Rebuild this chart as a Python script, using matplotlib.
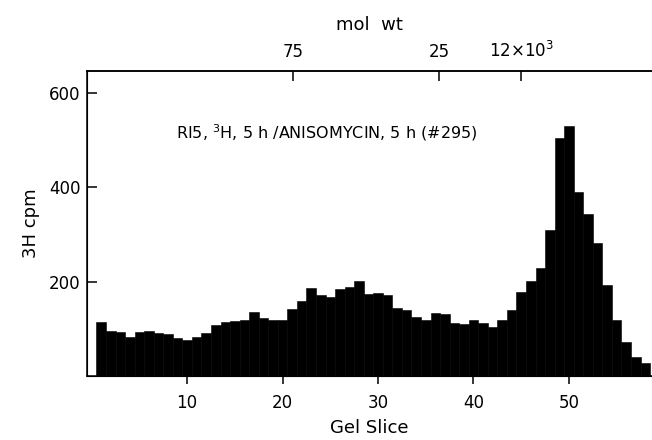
import matplotlib
matplotlib.use("Agg")
import matplotlib.pyplot as plt

# gel slice number and 3H counts per slice
slices = list(range(1, 59))
cpm = [114, 95, 93, 82, 93, 95, 92, 90, 81, 76,
       82, 91, 108, 115, 116, 119, 136, 122, 119, 118,
       141, 160, 187, 171, 168, 184, 188, 202, 174, 175,
       172, 145, 140, 124, 119, 133, 131, 112, 110, 118,
       113, 103, 119, 139, 178, 201, 230, 310, 504, 531,
       390, 344, 281, 192, 119, 71, 41, 27]

x_ticks = [10, 20, 30, 40, 50]
y_ticks = [200, 400, 600]

# molecular weight markers on the top axis
mw_pos = [21.1, 36.4, 45.0]
mw_labels = ["75", "25", r"12$\times$10$^3$"]

fig = plt.figure(figsize=(6.52, 4.40), dpi=100)
ax = fig.add_axes([0.134, 0.1455, 0.866, 0.6935])

ax.bar(slices, cpm, width=1.0, color="black", edgecolor="black", linewidth=0.4)

ax.set_xlim(-0.45, 58.7)
ax.set_ylim(0, 647)

for s in ["left", "bottom", "top"]:
    ax.spines[s].set_linewidth(1.1)
ax.spines["right"].set_visible(False)

ax.set_xticks(x_ticks)
ax.set_yticks(y_ticks)
ax.tick_params(axis="x", direction="out", length=6, width=1.1, labelsize=12, pad=7)
ax.tick_params(axis="y", direction="in", length=7, width=1.1, labelsize=12, pad=5)

ax.set_xlabel("Gel Slice", fontsize=13, labelpad=5)
ax.set_ylabel("3H cpm", fontsize=13, labelpad=6)

top = ax.twiny()
top.set_xlim(ax.get_xlim())
top.set_xticks(mw_pos)
top.set_xticklabels(mw_labels)
top.tick_params(axis="x", direction="in", length=7, width=1.1, labelsize=12, pad=7)
top.spines["right"].set_visible(False)
top.spines["top"].set_linewidth(1.1)
top.set_xlabel("mol  wt", fontsize=13, labelpad=8)

ax.text(40.4, 515, r"RI5, $^{3}$H, 5 h /ANISOMYCIN, 5 h (#295)",
        ha="right", va="center", fontsize=11.5)

fig.savefig("out.png", dpi=100)
